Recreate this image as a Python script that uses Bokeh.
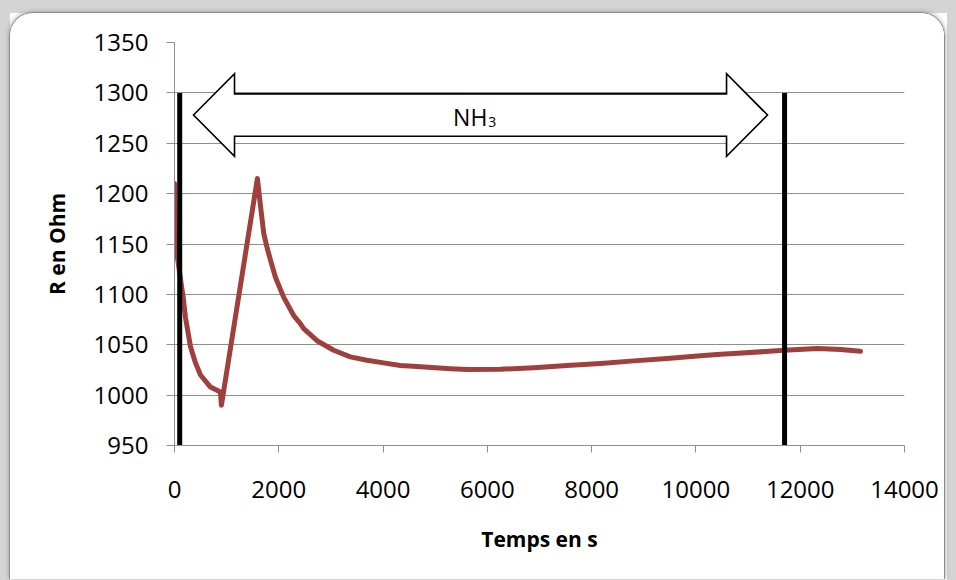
from bokeh.plotting import figure
from bokeh.models import Range1d, FixedTicker, Label
from bokeh.embed import file_html
from bokeh.resources import INLINE

# ---- data ----
time_s = [0, 19, 166, 211, 307, 403, 499, 690, 880, 900,
          1590, 1649, 1713, 1777, 1841, 1936, 2095, 2286, 2414, 2478, 2734,
          3053, 3372, 3692, 4011, 4331, 4650, 5290, 5613, 6252, 6890,
          7530, 8170, 8808, 9449, 10088, 10472, 10727, 11692, 12332, 12778,
          13157]
r_ohm = [1210, 1150, 1097, 1077, 1048, 1032, 1020, 1008, 1003, 990,
         1215, 1188, 1160, 1146, 1134, 1117, 1097, 1079, 1071, 1066, 1054,
         1044.5, 1038, 1034.6, 1032, 1029.5, 1028.3, 1026.2, 1025.5, 1025.7, 1027.2,
         1029.3, 1031.3, 1034, 1036.3, 1039, 1040.5, 1041.2, 1044.5, 1046.2, 1045.2,
         1043.5]

x_ticks = [0, 2000, 4000, 6000, 8000, 10000, 12000, 14000]
y_ticks = [950, 1000, 1050, 1100, 1150, 1200, 1250, 1300, 1350]

# NH3 exposure markers (start / end) and arrow annotation
marker_times = [100, 11700]
marker_top = 1300
arrow_x = [364, 1151, 10587, 11373]          # tip, head base, head base, tip
arrow_y = [1237, 1257, 1278, 1299, 1319]      # head low, shaft low, mid, shaft high, head high
gas_label_x = 6000
gas_label_y = 1276

FONT = "Open Sans"
GRID = "#8f8f8f"

p = figure(width=936, height=567, output_backend="svg", toolbar_location=None,
           x_range=Range1d(x_ticks[0], x_ticks[-1]), y_range=Range1d(y_ticks[0], y_ticks[-1]),
           min_border_left=164, min_border_right=42, min_border_top=29, min_border_bottom=135)

p.styles = {"margin-left": "9px", "margin-top": "12px",
            "border": "1px solid #8c8c8c", "border-bottom": "none",
            "border-radius": "24px 24px 0 0",
            "overflow": "hidden", "box-shadow": "0 0 5px #9a9a9a"}

p.background_fill_color = "white"
p.border_fill_color = "white"
p.outline_line_color = None

p.xgrid.grid_line_color = None
p.ygrid.grid_line_color = GRID
p.ygrid.grid_line_width = 1
p.ygrid.ticker = FixedTicker(ticks=y_ticks)

p.xaxis.ticker = FixedTicker(ticks=x_ticks)
p.yaxis.ticker = FixedTicker(ticks=y_ticks)

for ax in (p.xaxis[0], p.yaxis[0]):
    ax.axis_line_color = GRID
    ax.major_tick_line_color = GRID
    ax.minor_tick_line_color = None
    ax.major_tick_in = 0
    ax.major_label_text_font = FONT
    ax.major_label_text_font_size = "24px"
    ax.major_label_text_color = "black"
    ax.axis_label_text_font = FONT
    ax.axis_label_text_font_size = "21px"
    ax.axis_label_text_font_style = "bold"
    ax.axis_label_text_color = "black"

p.xaxis.major_tick_out = 7
p.yaxis.major_tick_out = 8
p.xaxis.major_label_standoff = 28
p.yaxis.major_label_standoff = 18
p.xaxis.axis_label = "Temps en s"
p.yaxis.axis_label = "R en Ohm"
p.xaxis.axis_label_standoff = 24
p.yaxis.axis_label_standoff = 20

# data curve
p.line(time_s, r_ohm, line_color="#9E413E", line_width=5,
       line_join="round", line_cap="round")

# exposure markers
p.segment(x0=marker_times, y0=[y_ticks[0]] * 2, x1=marker_times, y1=[marker_top] * 2,
          line_color="black", line_width=5)

# double-headed block arrow
ax0, ax1, ax2, ax3 = arrow_x
hl, sl, mid, sh, hh = arrow_y
p.patch([ax0, ax1, ax1, ax2, ax2, ax3, ax2, ax2, ax1, ax1, ax0],
        [mid, hh, sh, sh, hh, mid, hl, sl, sl, hl, mid],
        fill_color="white", line_color="black", line_width=1.6, line_join="miter")

p.add_layout(Label(x=gas_label_x, y=gas_label_y, text="NH", text_align="right",
                   text_baseline="alphabetic", text_font=FONT, text_font_size="23px",
                   text_color="black"))
p.add_layout(Label(x=gas_label_x, y=gas_label_y, text="3", text_align="left",
                   text_baseline="alphabetic", y_offset=-5, x_offset=1,
                   text_font=FONT, text_font_size="14px", text_color="black"))

html = file_html(p, INLINE)
css = ("<style>html{background:"
       "linear-gradient(#d4d4d4,#d4d4d4) 0 0/100% 13px no-repeat,"
       "linear-gradient(#d4d4d4,#d4d4d4) 0 0/10px 100% no-repeat,"
       "linear-gradient(#d4d4d4,#d4d4d4) right top/9px 100% no-repeat,"
       "#ffffff;}</style></head>")
html = html.replace("</head>", css, 1)
open("out.html", "w").write(html)
